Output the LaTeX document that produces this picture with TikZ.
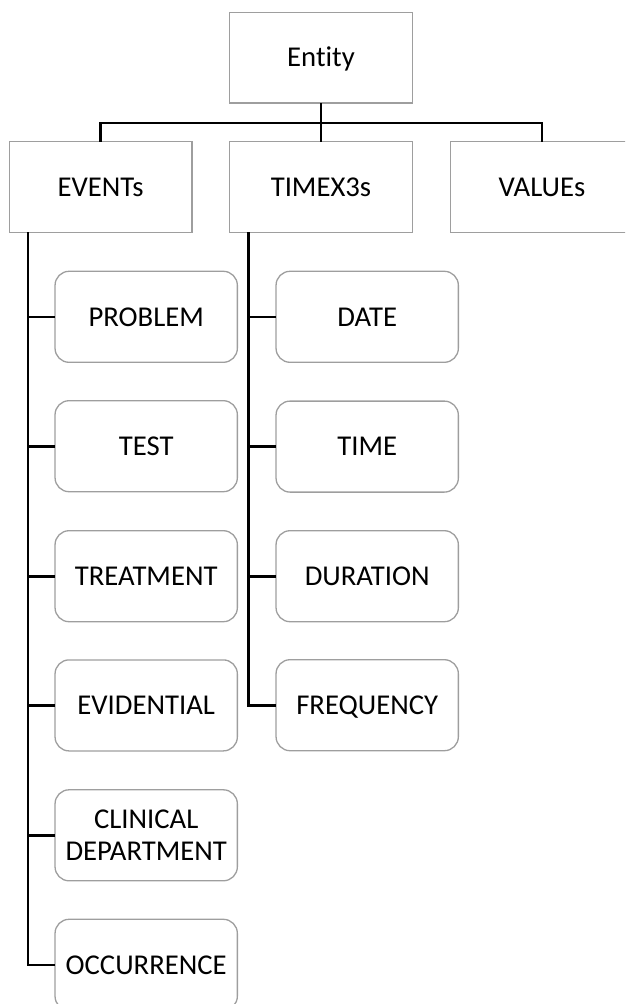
\documentclass[tikz,border=0pt]{standalone}
\usepackage{fontspec}
\setmainfont{Carlito}[Ligatures={NoCommon}]
\begin{document}
\begin{tikzpicture}[x=1pt,y=-1pt,
  every node/.style={font=\fontsize{28.7pt}{31.7pt}\selectfont, text=black},
  topbox/.style={draw=black!38, line width=1.3pt, rectangle,
    minimum width=182.5pt, minimum height=90.6pt, inner sep=0pt, outer sep=0pt,
    text height=24pt, text depth=5.5pt},
  leafbox/.style={draw=black!38, line width=1.3pt, rectangle, rounded corners=14pt,
    minimum width=182.3pt, minimum height=91pt, inner sep=0pt, outer sep=0pt,
    text height=24pt, text depth=5.5pt},
  twoline/.style={text height={}, text depth={}, align=center},
  link/.style={draw=black, line width=2.6pt, line join=miter}]
  \useasboundingbox (0,0) rectangle (625,1004);
  \clip (0,0) rectangle (625,1004);

  % top level
  \node[topbox] (entity) at (321,57.7) {Entity};
  \node[topbox] (events) at (100.6,187) {EVENTs};
  \node[topbox] (timex)  at (321,187) {TIMEX3s};
  \node[topbox] (values) at (542,187) {VALUEs};

  % event types
  \node[leafbox] (problem)   at (146.2,316.8) {PROBLEM};
  \node[leafbox] (test)      at (146.2,446.2) {TEST};
  \node[leafbox] (treatment) at (146.2,576.2) {TREATMENT};
  \node[leafbox] (evidential) at (146.2,705.4) {EVIDENTIAL};
  \node[leafbox, twoline] (clinical) at (146.2,835.3) {CLINICAL\\DEPARTMENT};
  \node[leafbox] (occurrence) at (146.2,964.8) {OCCURRENCE};

  % temporal expression types
  \node[leafbox] (date)      at (367.2,316.8) {DATE};
  \node[leafbox] (time)      at (367.2,446.6) {TIME};
  \node[leafbox] (duration)  at (367.2,576.2) {DURATION};
  \node[leafbox] (frequency) at (367.2,705.2) {FREQUENCY};

  % tree from the root
  \coordinate (bar) at (321,123);
  \draw[link] (entity.south) -- (timex.north);
  \draw[link] (events.north) |- (bar) -| (values.north);

  % trunk under EVENTs
  \coordinate (etrunk) at (27.8,232.3);
  \draw[link] (etrunk) |- (occurrence.west);
  \foreach \n in {problem,test,treatment,evidential,clinical}
    \draw[link] (etrunk |- \n.west) -- (\n.west);

  % trunk under TIMEX3s
  \coordinate (ttrunk) at (248.5,232.3);
  \draw[link] (ttrunk) |- (frequency.west);
  \foreach \n in {date,time,duration}
    \draw[link] (ttrunk |- \n.west) -- (\n.west);
\end{tikzpicture}
\end{document}
